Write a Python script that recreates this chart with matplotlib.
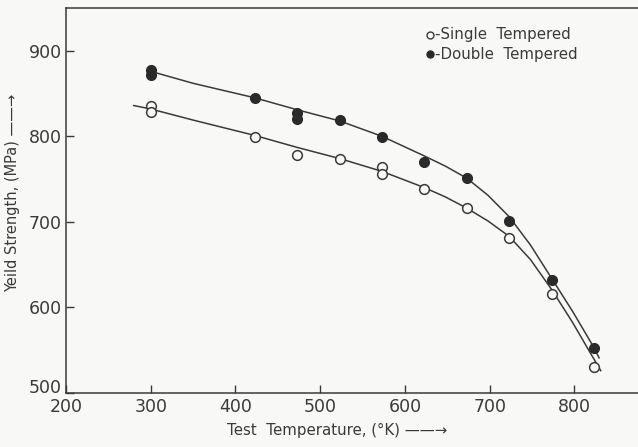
import matplotlib.pyplot as plt
import numpy as np

# measured points (deg K, MPa)
temp_single = [300, 300, 423, 473, 523, 573, 573, 623, 673, 723, 773, 823]
ys_single = [836, 828, 799, 778, 774, 764, 756, 739, 716, 681, 616, 530]

temp_double = [300, 300, 423, 473, 473, 523, 573, 623, 673, 723, 773, 823]
ys_double = [878, 872, 845, 827, 820, 819, 799, 770, 751, 701, 632, 553]

# fitted curves as drawn on the original
curve_single_x = [280, 300, 350, 423, 473, 523, 573, 623, 648, 673, 698, 723, 748, 773, 798, 815, 831]
curve_single_y = [836, 832, 819, 801, 787, 774, 759, 740, 729, 716, 701, 683, 656, 621, 582, 553, 526]

curve_double_x = [300, 350, 423, 473, 523, 573, 623, 648, 673, 698, 723, 748, 773, 798, 823, 829]
curve_double_y = [876, 862, 845, 831, 818, 800, 777, 765, 751, 731, 706, 673, 634, 595, 553, 541]

ink = '#3a3a3a'
bg = '#f8f8f6'

fig = plt.figure(figsize=(6.38, 4.47), dpi=100, facecolor=bg)
ax = fig.add_axes([0.1034, 0.121, 0.898, 0.861], facecolor=bg)

ax.plot(curve_single_x, curve_single_y, color=ink, lw=1.1)
ax.plot(curve_double_x, curve_double_y, color=ink, lw=1.1)
ax.plot(temp_single, ys_single, 'o', ms=7, mfc=bg, mec=ink, mew=1.1)
ax.plot(temp_double, ys_double, 'o', ms=7, mfc='#2a2a2a', mec='#2a2a2a')

ax.set_xlim(200, 876)
ax.set_ylim(500, 950)
ax.set_xticks(range(200, 801, 100))
ax.set_yticks(range(500, 901, 100))
ax.tick_params(direction='in', length=6, width=1, colors=ink, labelsize=12.5)
ax.tick_params(axis='x', pad=4)
ax.tick_params(axis='y', pad=3)
# keep the corner labels apart like the original
ax.get_yticklabels()[0].set_va('baseline')

for s in ['left', 'bottom', 'top']:
    ax.spines[s].set_color(ink)
    ax.spines[s].set_linewidth(1.1)
ax.spines['right'].set_visible(False)

ax.set_xlabel('Test  Temperature, (°K) ——→', fontsize=10.8, color=ink, labelpad=5, x=0.474)
ax.set_ylabel('Yeild Strength, (MPa) ——→', fontsize=10.5, color=ink, labelpad=6, y=0.52)

# legend drawn as in the original
ax.plot([630], [919], 'o', ms=5, mfc=bg, mec=ink, mew=1)
ax.plot([630], [896], 'o', ms=5, mfc='#2a2a2a', mec='#2a2a2a')
ax.text(636, 919, '-Single  Tempered', fontsize=10.8, color=ink, va='center')
ax.text(636, 896, '-Double  Tempered', fontsize=10.8, color=ink, va='center')

fig.savefig('out.png', dpi=100, facecolor=bg)
